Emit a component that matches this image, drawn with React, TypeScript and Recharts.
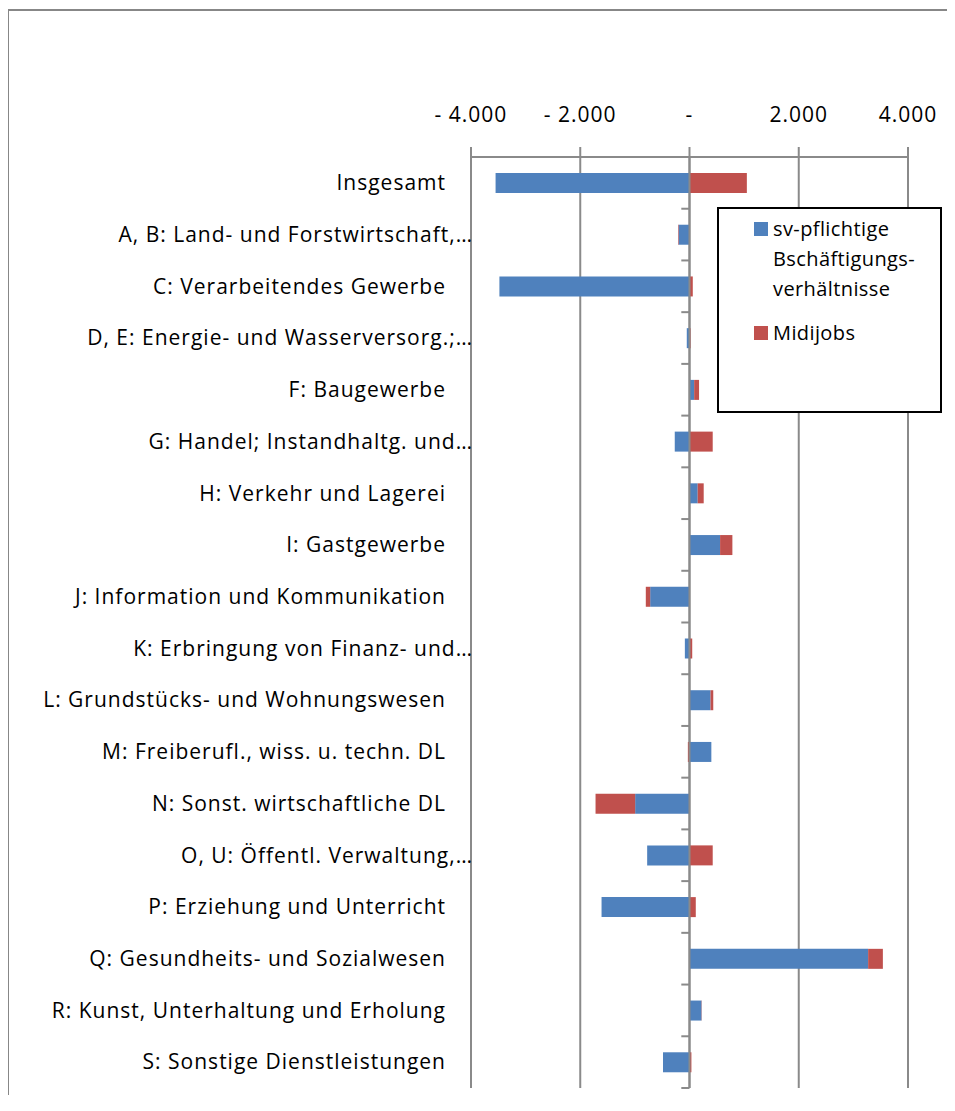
import React from "react";
import {
  BarChart, Bar, XAxis, YAxis, CartesianGrid, ReferenceLine, Legend,
} from "recharts";

const FONT = "'Open Sans', Lato, sans-serif";

const CATEGORIES = [
  "Insgesamt",
  "A, B: Land- und Forstwirtschaft,…",
  "C: Verarbeitendes Gewerbe",
  "D, E: Energie- und Wasserversorg.;…",
  "F: Baugewerbe",
  "G: Handel; Instandhaltg. und…",
  "H: Verkehr und Lagerei",
  "I: Gastgewerbe",
  "J: Information und Kommunikation",
  "K: Erbringung von Finanz- und…",
  "L: Grundstücks- und Wohnungswesen",
  "M: Freiberufl., wiss. u. techn. DL",
  "N: Sonst. wirtschaftliche DL",
  "O, U: Öffentl. Verwaltung,…",
  "P: Erziehung und Unterricht",
  "Q: Gesundheits- und Sozialwesen",
  "R: Kunst, Unterhaltung und Erholung",
  "S: Sonstige Dienstleistungen",
];

const SV_PFLICHTIG = [
  -3550, -200, -3480, -50, 85, -270, 150, 560, -720, -85, 385, 400, -995, -775, -1610, 3270, 220, -485,
];

const MIDIJOBS = [
  1050, -10, 60, 20, 90, 425, 110, 225, -80, 50, 50, -30, -725, 425, 115, 270, 5, 35,
];

const X_TICKS = [-4000, -2000, 0, 2000, 4000];

const LEGEND_ITEMS = [
  { key: "sv", lines: ["sv-pflichtige", "Bschäftigungs-", "verhältnisse"] },
  { key: "midi", lines: ["Midijobs"] },
];

const data = CATEGORIES.map((name, i) => ({
  name,
  sv: SV_PFLICHTIG[i],
  midi: MIDIJOBS[i],
}));

const fmt = (v: number) => {
  if (v === 0) return "-";
  const s = Math.abs(v).toLocaleString("de-DE");
  return v < 0 ? "- " + s : s;
};

const CategoryTick = (props: any) => {
  const { x, y, payload } = props;
  const truncated = String(payload.value).endsWith("…");
  return (
    <text
      x={x}
      y={y}
      dx={truncated ? 2 : -25}
      dy="0.35em"
      textAnchor="end"
      fill="#000"
      fontSize={21}
      letterSpacing={1}
      fontFamily={FONT}
    >
      {payload.value}
    </text>
  );
};

const renderLegend = (props: any) => {
  const payload = props.payload || [];
  return (
    <div
      style={{
        border: "2px solid #000",
        boxSizing: "border-box",
        width: 225,
        height: 206,
        background: "#fff",
        padding: "5px 0 0 35px",
        fontFamily: FONT,
        fontSize: 20,
        letterSpacing: 0.4,
        color: "#000",
      }}
    >
      {LEGEND_ITEMS.map((item) => {
        const entry = payload.find((p: any) => p.dataKey === item.key);
        return (
          <div key={item.key} style={{ display: "flex", alignItems: "flex-start", marginBottom: 14 }}>
            <span
              style={{
                width: 14, height: 14, background: entry ? entry.color : "#888",
                marginTop: 8, marginRight: 5, flex: "none",
              }}
            />
            <span style={{ lineHeight: "30px" }}>
              {item.lines.map((l) => (
                <div key={l}>{l}</div>
              ))}
            </span>
          </div>
        );
      })}
    </div>
  );
};

export default function App() {
  return (
    <div style={{ margin: -8, width: 955, height: 1103, overflow: "hidden", position: "relative" }}>
      <div
        style={{
          position: "absolute",
          left: 7,
          top: 9,
          borderLeft: "2px solid #878787",
          borderTop: "2px solid #878787",
          width: 946,
          height: 1092,
          overflow: "hidden",
        }}
      >
        <BarChart
          width={960}
          height={1110}
          data={data}
          layout="vertical"
          stackOffset="sign"
          barSize={20}
          margin={{ top: 0, right: 61, bottom: 33, left: 0 }}
        >
          <CartesianGrid vertical horizontal={false} stroke="#8a8a8a" strokeWidth={2} />
          <XAxis
            type="number"
            orientation="top"
            domain={[-4000, 4000]}
            ticks={X_TICKS}
            tickFormatter={fmt}
            height={146}
            axisLine={{ stroke: "#8a8a8a", strokeWidth: 2 }}
            tickLine={{ stroke: "#8a8a8a", strokeWidth: 2 }}
            tickSize={10}
            tickMargin={25}
            tick={{ fill: "#000", fontSize: 21, fontFamily: FONT, letterSpacing: 1 }}
          />
          <YAxis
            type="category"
            dataKey="name"
            width={462}
            axisLine={false}
            tickLine={false}
            tickSize={0}
            tickMargin={0}
            interval={0}
            tick={<CategoryTick />}
          />
          <ReferenceLine x={0} stroke="#8a8a8a" strokeWidth={2} />
          {CATEGORIES.map((c) => (
            <ReferenceLine
              key={c}
              position="end"
              segment={[{ x: -150, y: c }, { x: 0, y: c }]}
              stroke="#8a8a8a"
              strokeWidth={2}
            />
          ))}
          <Bar
            dataKey="sv"
            name="sv-pflichtige Bschäftigungsverhältnisse"
            stackId="a"
            fill="#4F81BD"
            isAnimationActive={false}
          />
          <Bar
            dataKey="midi"
            name="Midijobs"
            stackId="a"
            fill="#C0504D"
            isAnimationActive={false}
          />
          <Legend
            layout="vertical"
            align="center"
            verticalAlign="middle"
            content={renderLegend}
            wrapperStyle={{ left: 708, top: 196, width: 225, height: 206 }}
          />
        </BarChart>
      </div>
    </div>
  );
}
